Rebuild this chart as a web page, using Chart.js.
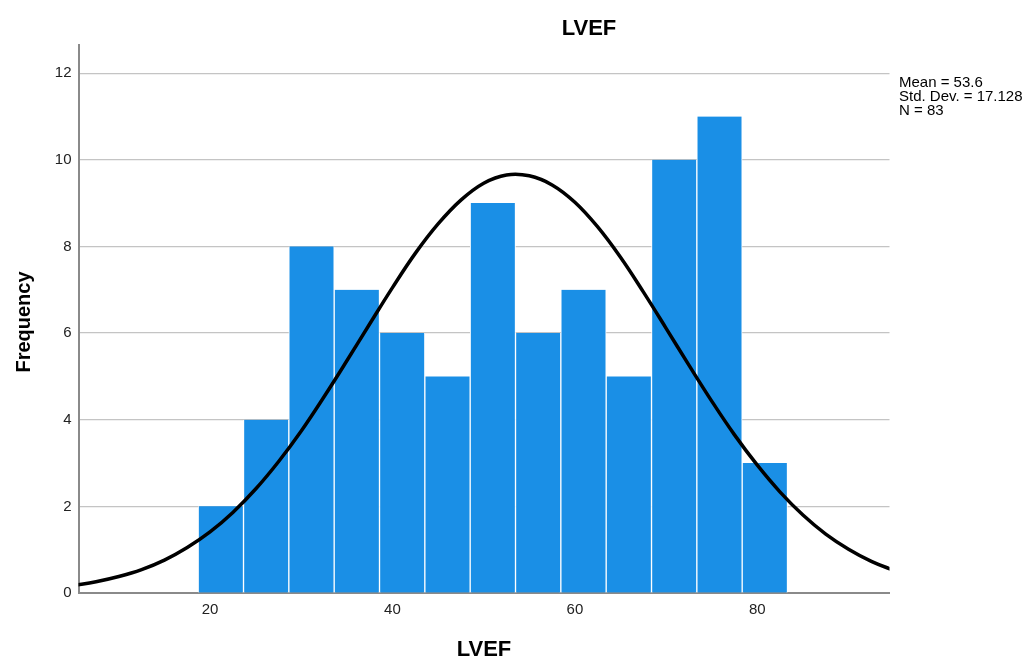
<!DOCTYPE html>
<html>
<head>
<meta charset="utf-8">
<title>LVEF</title>
<script src="https://cdn.jsdelivr.net/npm/chart.js@4.4.1/dist/chart.umd.min.js"></script>
<style>
  html, body { margin: 0; padding: 0; background: #fff; }
  #wrap { width: 1026px; height: 656px; }
</style>
</head>
<body>
<div id="wrap"><canvas id="hist" width="1026" height="656"></canvas></div>
<script>
// histogram bins (LVEF, %)
const binStart = 18.7;
const binWidth = 4.97;
const counts = [2, 4, 8, 7, 6, 5, 9, 6, 7, 5, 10, 11, 3];

// normal curve, every 2.5 units (x = LVEF, y = frequency)
const curveX = [5, 7.5, 10, 12.5, 15, 17.5, 20, 22.5, 25, 27.5, 30, 32.5, 35, 37.5, 40, 42.5, 45, 47.5, 50,
  52.5, 55, 57.5, 60, 62.5, 65, 67.5, 70, 72.5, 75, 77.5, 80, 82.5, 85, 87.5, 90, 92.5, 95];
const curveY = [0.17, 0.26, 0.38, 0.54, 0.76, 1.05, 1.41, 1.86, 2.40, 3.03, 3.74, 4.53, 5.36, 6.21, 7.05, 7.84, 8.52, 9.07, 9.46,
  9.65, 9.63, 9.42, 9.02, 8.45, 7.75, 6.95, 6.11, 5.26, 4.43, 3.65, 2.95, 2.33, 1.80, 1.36, 1.01, 0.73, 0.52];

const xTicks = [20, 40, 60, 80];
const yTicks = [0, 2, 4, 6, 8, 10, 12];
const statsLines = ["Mean = 53.6", "Std. Dev. = 17.128", "N = 83"];

const FONT = "'Liberation Sans', Arial, Helvetica, sans-serif";

const barPoints = counts.map((c, i) => ({ x: binStart + binWidth * (i + 0.5), y: c }));
const curvePoints = curveX.map((x, i) => ({ x, y: curveY[i] }));

// titles and the stats box, drawn at fixed spots like the SPSS output
const textPlugin = {
  id: "spssText",
  afterDraw(chart) {
    const ctx = chart.ctx;
    const area = chart.chartArea;
    ctx.save();
    ctx.fillStyle = "#000";
    ctx.textBaseline = "alphabetic";

    ctx.font = "bold 22px " + FONT;
    ctx.textAlign = "center";
    ctx.fillText("LVEF", 589, 35);
    ctx.fillText("LVEF", (area.left + area.right) / 2, 656);

    ctx.save();
    ctx.translate(29.5, (area.top + area.bottom) / 2 + 3);
    ctx.rotate(-Math.PI / 2);
    ctx.font = "bold 20px " + FONT;
    ctx.fillText("Frequency", 0, 0);
    ctx.restore();

    ctx.font = "15px " + FONT;
    ctx.textAlign = "left";
    statsLines.forEach((t, i) => ctx.fillText(t, 899, 87 + i * 14));
    ctx.restore();
  }
};

new Chart(document.getElementById("hist"), {
  type: "bar",
  data: {
    datasets: [
      {
        type: "line",
        data: curvePoints,
        borderColor: "#000",
        borderWidth: 3.5,
        pointRadius: 0,
        tension: 0.4,
        fill: false,
        order: 0
      },
      {
        type: "bar",
        data: barPoints,
        backgroundColor: "#1a8fe6",
        borderColor: "#ffffff",
        borderWidth: { left: 1, right: 1, top: 0, bottom: 0 },
        borderSkipped: false,
        barPercentage: 1,
        categoryPercentage: 1,
        grouped: false,
        order: 1
      }
    ]
  },
  options: {
    responsive: false,
    animation: false,
    events: [],
    layout: { padding: { left: 0, right: 136.5, top: 45, bottom: 0 } },
    plugins: { legend: { display: false }, tooltip: { enabled: false }, title: { display: false } },
    scales: {
      x: {
        type: "linear",
        min: 5.58,
        max: 94.49,
        offset: false,
        afterBuildTicks: s => { s.ticks = xTicks.map(v => ({ value: v })); },
        afterFit: s => { s.height = 63; },
        grid: { display: false, drawTicks: false },
        border: { display: true, color: "#8a8a8a", width: 2 },
        ticks: { padding: 8, color: "#222", font: { family: FONT, size: 15 } }
      },
      y: {
        type: "linear",
        min: 0,
        max: 12.65,
        afterBuildTicks: s => { s.ticks = yTicks.map(v => ({ value: v })); },
        afterFit: s => { s.width = 78.5; },
        grid: { color: "#c4c4c4", lineWidth: 1.2, drawTicks: false },
        border: { display: true, color: "#8a8a8a", width: 2 },
        ticks: { padding: 7, color: "#222", font: { family: FONT, size: 15 } }
      }
    }
  },
  plugins: [textPlugin]
});
</script>
</body>
</html>
